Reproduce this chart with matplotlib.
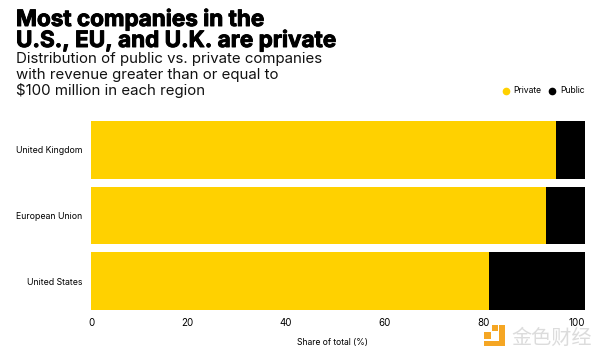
import matplotlib
matplotlib.use('Agg')
import matplotlib.pyplot as plt
import matplotlib.patheffects as pe
from matplotlib.patches import Rectangle
from matplotlib.transforms import ScaledTranslation

regions = ['United States', 'European Union', 'United Kingdom']
private = [80.5, 92.2, 94.1]
public = [19.5, 7.8, 5.9]
ticks = [0, 20, 40, 60, 80, 100]

YELLOW = '#ffd100'
W, H = 600, 357

plt.rcParams['font.family'] = ['Inter', 'DejaVu Sans']

fig = plt.figure(figsize=(6, 3.57), dpi=100)
ax = fig.add_axes([91/W, 1 - 310/H, 494/W, 189/H])

ax.barh(regions, private, height=0.875, color=YELLOW)
ax.barh(regions, public, left=private, height=0.875, color='black')
ax.set_xlim(0, 100)
ax.set_ylim(-0.4375, 2.4375)

for s in ax.spines.values():
    s.set_visible(False)
ax.tick_params(axis='y', length=0, labelsize=6.3, pad=6)
ax.tick_params(axis='x', length=0, labelsize=7, pad=6)
ax.set_xticks(ticks)
labels = ax.get_xticklabels()
labels[0].set_ha('left')
labels[-1].set_ha('right')
# the labels sit a little left of their ticks
shift = ScaledTranslation(-2.5/100, 0, fig.dpi_scale_trans)
for lab in labels[:-1]:
    lab.set_transform(lab.get_transform() + shift)
fig.text(332/W, 1 - 343/H, 'Share of total (%)', fontsize=6.2, ha='center', va='center')

# title and subtitle
for y, line in [(26, 'Most companies in the'), (47, 'U.S., EU, and U.K. are private')]:
    fig.text(16/W, 1 - y/H, line, fontsize=16.2, fontweight='bold', va='baseline',
             path_effects=[pe.withStroke(linewidth=0.7, foreground='black')])
sub = ['Distribution of public vs. private companies',
       'with revenue greater than or equal to',
       '$100 million in each region']
for i, line in enumerate(sub):
    fig.text(16/W, 1 - (63 + 16*i)/H, line.replace('$', r'\$'), fontsize=10.8, va='baseline', color='#111111')

# legend
fig.add_artist(plt.Line2D([506/W], [1 - 90.5/H], marker='o', ms=4.5, color=YELLOW, ls=''))
fig.text(513.5/W, 1 - 90.5/H, 'Private', fontsize=6.2, va='center')
fig.add_artist(plt.Line2D([552/W], [1 - 90.5/H], marker='o', ms=4.5, color='black', ls=''))
fig.text(560/W, 1 - 90.5/H, 'Public', fontsize=6.2, va='center')

# watermark
LOGO = '#f5a623'
for x, y, w, h in [(484, 341, 21, 5), (499, 325, 6, 21), (484, 332, 7, 7), (492, 325, 6, 6)]:
    fig.add_artist(Rectangle((x/W, 1 - (y + h)/H), w/W, h/H, color=LOGO, lw=0))
fig.text(511/W, 1 - 338/H, '金色财经', fontsize=14.5, family=['Noto Sans CJK SC'], color='#dcdcdc', va='center')

fig.savefig('out.png', dpi=100)
